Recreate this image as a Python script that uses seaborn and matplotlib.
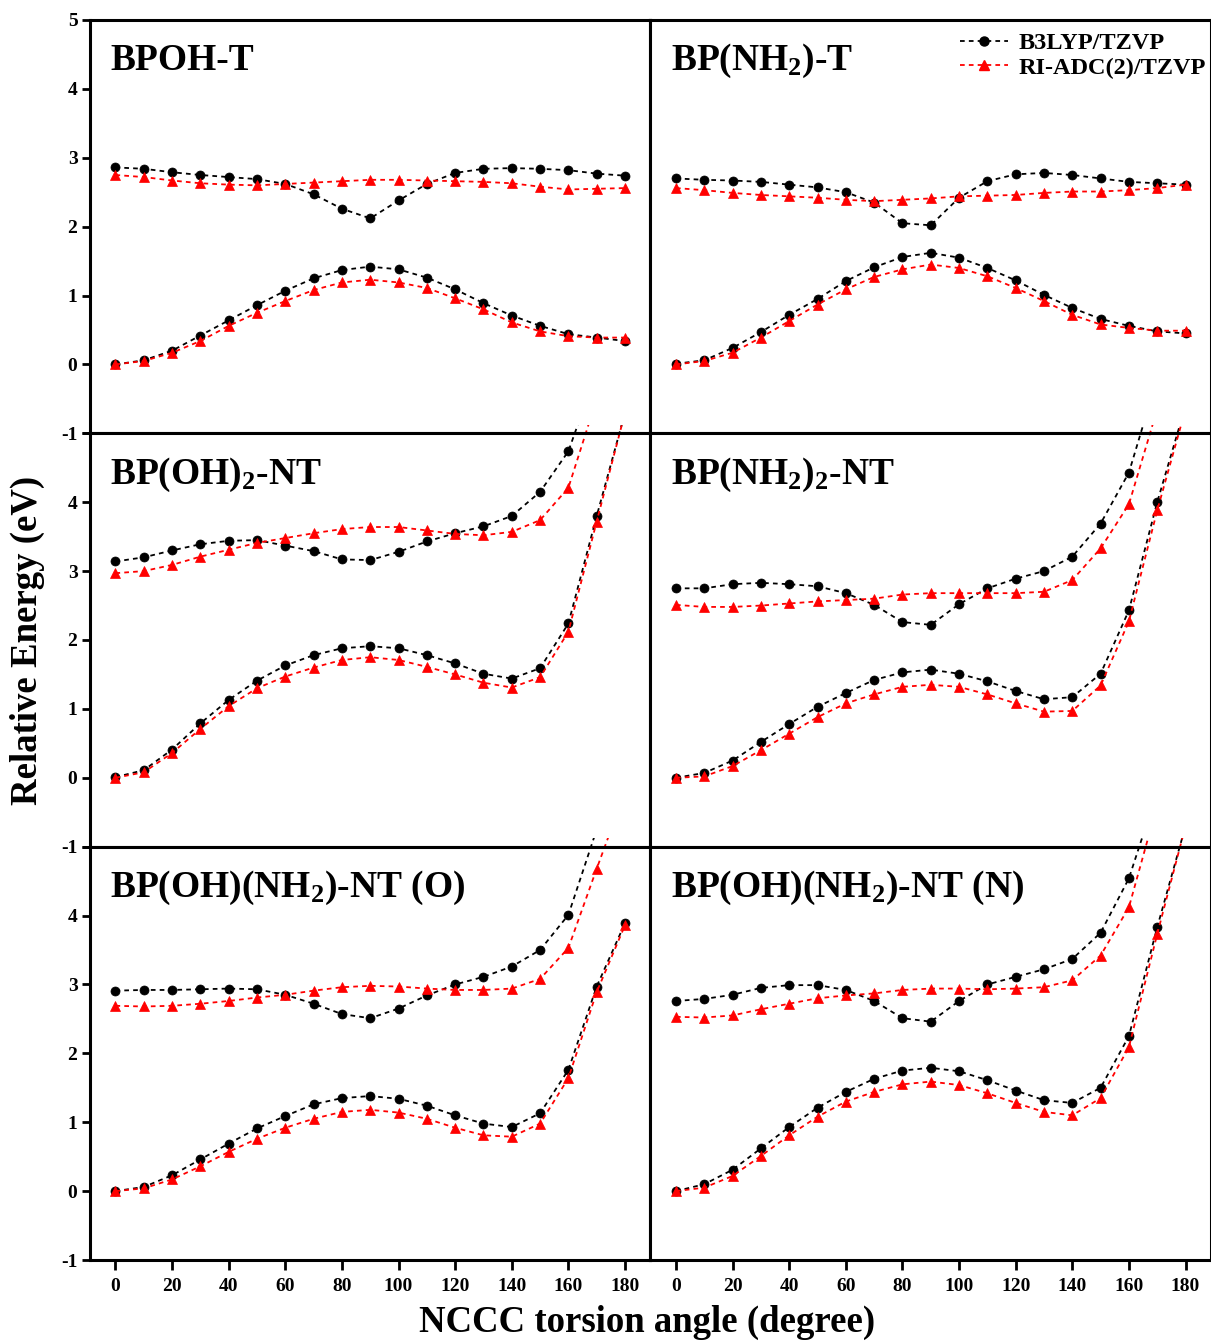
import numpy as np
import pandas as pd
import matplotlib
matplotlib.use("Agg")
import matplotlib.pyplot as plt
from matplotlib.lines import Line2D
from matplotlib.patches import Rectangle
import seaborn as sns

# ---------------- data ----------------
angles = list(range(0, 190, 10))

panel_titles = ["BPOH-T", "BP(NH$_2$)-T", "BP(OH)$_2$-NT", "BP(NH$_2$)$_2$-NT",
                "BP(OH)(NH$_2$)-NT (O)", "BP(OH)(NH$_2$)-NT (N)"]

# BPOH-T
p1_b3_s2 = [2.86, 2.84, 2.79, 2.75, 2.72, 2.69, 2.62, 2.47, 2.26, 2.12, 2.38, 2.62, 2.78, 2.84, 2.85, 2.84, 2.82, 2.77, 2.74]
p1_adc_s2 = [2.75, 2.72, 2.67, 2.63, 2.61, 2.60, 2.62, 2.64, 2.66, 2.68, 2.68, 2.67, 2.66, 2.65, 2.63, 2.58, 2.54, 2.55, 2.56]
p1_b3_s1 = [0.00, 0.06, 0.20, 0.42, 0.64, 0.86, 1.07, 1.25, 1.37, 1.42, 1.38, 1.26, 1.09, 0.89, 0.71, 0.56, 0.44, 0.39, 0.34]
p1_adc_s1 = [0.00, 0.05, 0.17, 0.34, 0.56, 0.75, 0.92, 1.08, 1.19, 1.23, 1.19, 1.11, 0.96, 0.80, 0.61, 0.48, 0.41, 0.39, 0.39]

# BP(NH2)-T
p2_b3_s2 = [2.70, 2.68, 2.67, 2.65, 2.61, 2.57, 2.50, 2.35, 2.05, 2.02, 2.42, 2.66, 2.76, 2.78, 2.75, 2.70, 2.65, 2.63, 2.61]
p2_adc_s2 = [2.56, 2.53, 2.49, 2.46, 2.44, 2.42, 2.39, 2.37, 2.39, 2.41, 2.44, 2.45, 2.46, 2.49, 2.51, 2.51, 2.53, 2.56, 2.61]
p2_b3_s1 = [0.01, 0.06, 0.24, 0.47, 0.72, 0.95, 1.21, 1.41, 1.56, 1.62, 1.55, 1.40, 1.22, 1.01, 0.82, 0.66, 0.56, 0.48, 0.45]
p2_adc_s1 = [0.00, 0.05, 0.17, 0.39, 0.63, 0.87, 1.09, 1.27, 1.38, 1.45, 1.40, 1.28, 1.11, 0.92, 0.72, 0.58, 0.53, 0.49, 0.49]

# BP(OH)2-NT
p3_b3_s2 = [3.14, 3.20, 3.30, 3.39, 3.44, 3.45, 3.37, 3.29, 3.17, 3.16, 3.28, 3.43, 3.55, 3.65, 3.80, 4.15, 4.74, 5.90, 7.00]
p3_adc_s2 = [2.97, 3.00, 3.09, 3.21, 3.31, 3.41, 3.48, 3.55, 3.61, 3.64, 3.64, 3.59, 3.54, 3.52, 3.57, 3.74, 4.21, 5.50, 6.80]
p3_b3_s1 = [0.01, 0.11, 0.41, 0.79, 1.13, 1.41, 1.63, 1.78, 1.88, 1.91, 1.88, 1.78, 1.66, 1.51, 1.44, 1.59, 2.24, 3.80, 5.30]
p3_adc_s1 = [0.00, 0.08, 0.36, 0.71, 1.04, 1.30, 1.47, 1.60, 1.71, 1.75, 1.71, 1.61, 1.50, 1.38, 1.31, 1.46, 2.12, 3.72, 5.30]

# BP(NH2)2-NT
p4_b3_s2 = [2.75, 2.75, 2.81, 2.83, 2.81, 2.78, 2.68, 2.51, 2.26, 2.22, 2.52, 2.75, 2.89, 3.00, 3.21, 3.69, 4.43, 5.80, 7.00]
p4_adc_s2 = [2.51, 2.48, 2.48, 2.50, 2.53, 2.56, 2.58, 2.60, 2.66, 2.68, 2.68, 2.68, 2.68, 2.70, 2.87, 3.33, 3.97, 5.35, 6.60]
p4_b3_s1 = [0.00, 0.07, 0.25, 0.52, 0.78, 1.03, 1.23, 1.42, 1.53, 1.57, 1.51, 1.40, 1.26, 1.14, 1.17, 1.51, 2.43, 4.00, 5.40]
p4_adc_s1 = [0.00, 0.02, 0.17, 0.40, 0.64, 0.88, 1.08, 1.21, 1.32, 1.35, 1.32, 1.21, 1.08, 0.96, 0.97, 1.34, 2.27, 3.88, 5.35]

# BP(OH)(NH2)-NT (O)
p5_b3_s2 = [2.91, 2.92, 2.92, 2.93, 2.94, 2.93, 2.85, 2.72, 2.57, 2.51, 2.65, 2.84, 3.00, 3.11, 3.26, 3.50, 4.01, 5.25, 6.50]
p5_adc_s2 = [2.69, 2.68, 2.69, 2.72, 2.76, 2.81, 2.85, 2.91, 2.96, 2.98, 2.97, 2.94, 2.92, 2.92, 2.94, 3.08, 3.53, 4.68, 5.80]
p5_b3_s1 = [0.00, 0.06, 0.23, 0.46, 0.69, 0.91, 1.09, 1.26, 1.35, 1.38, 1.34, 1.24, 1.10, 0.98, 0.93, 1.13, 1.76, 2.97, 3.89]
p5_adc_s1 = [0.00, 0.04, 0.17, 0.36, 0.57, 0.76, 0.92, 1.05, 1.15, 1.18, 1.14, 1.05, 0.92, 0.81, 0.79, 0.98, 1.64, 2.89, 3.86]

# BP(OH)(NH2)-NT (N)
p6_b3_s2 = [2.76, 2.79, 2.85, 2.95, 2.99, 2.99, 2.92, 2.76, 2.51, 2.46, 2.76, 3.00, 3.11, 3.22, 3.37, 3.75, 4.54, 5.80, 7.00]
p6_adc_s2 = [2.53, 2.52, 2.55, 2.64, 2.72, 2.80, 2.84, 2.87, 2.92, 2.94, 2.94, 2.93, 2.94, 2.96, 3.06, 3.42, 4.12, 5.60, 7.00]
p6_b3_s1 = [0.00, 0.10, 0.31, 0.62, 0.93, 1.21, 1.44, 1.63, 1.75, 1.79, 1.74, 1.61, 1.46, 1.32, 1.28, 1.50, 2.25, 3.83, 5.30]
p6_adc_s1 = [0.00, 0.05, 0.22, 0.51, 0.81, 1.08, 1.30, 1.44, 1.55, 1.59, 1.54, 1.42, 1.28, 1.15, 1.10, 1.35, 2.09, 3.73, 5.30]

panels = [
    (p1_b3_s2, p1_adc_s2, p1_b3_s1, p1_adc_s1),
    (p2_b3_s2, p2_adc_s2, p2_b3_s1, p2_adc_s1),
    (p3_b3_s2, p3_adc_s2, p3_b3_s1, p3_adc_s1),
    (p4_b3_s2, p4_adc_s2, p4_b3_s1, p4_adc_s1),
    (p5_b3_s2, p5_adc_s2, p5_b3_s1, p5_adc_s1),
    (p6_b3_s2, p6_adc_s2, p6_b3_s1, p6_adc_s1),
]

method_labels = ["B3LYP/TZVP", "RI-ADC(2)/TZVP"]
x_ticks = list(range(0, 181, 20))
y_ticks = [-1, 0, 1, 2, 3, 4, 5]

# ---------------- style ----------------
sns.set_theme(style="ticks")
plt.rcParams["font.family"] = ["Liberation Serif", "DejaVu Serif"]
plt.rcParams["font.weight"] = "bold"
plt.rcParams["text.color"] = "black"
plt.rcParams["axes.labelcolor"] = "black"
plt.rcParams["xtick.color"] = "black"
plt.rcParams["ytick.color"] = "black"
plt.rcParams["axes.unicode_minus"] = False
plt.rcParams["mathtext.fontset"] = "custom"
plt.rcParams["mathtext.rm"] = "Liberation Serif:bold"
plt.rcParams["mathtext.it"] = "Liberation Serif:bold"
plt.rcParams["mathtext.bf"] = "Liberation Serif:bold"
plt.rcParams["mathtext.default"] = "rm"

fig, axes = plt.subplots(3, 2, figsize=(12.11, 13.42), dpi=100,
                         gridspec_kw=dict(hspace=0, wspace=0))
fig.subplots_adjust(left=0.0743, right=1.0, top=0.9851, bottom=0.0611)

styles = [("black", "o", 6.5), ("red", "^", 7.5)]

for idx, ax in enumerate(axes.flat):
    b3_s2, adc_s2, b3_s1, adc_s1 = panels[idx]
    series = [(b3_s2, 0), (adc_s2, 1), (b3_s1, 0), (adc_s1, 1)]
    for vals, m in series:
        col, mk, ms = styles[m]
        df = pd.DataFrame({"angle": angles, "energy": vals})
        sns.lineplot(data=df, x="angle", y="energy", ax=ax, color=col,
                     marker=mk, markersize=ms, markeredgecolor=col,
                     markeredgewidth=0.5, linestyle="--", linewidth=1.3,
                     estimator=None, sort=False)
    for ln in ax.lines:
        ln.set_dashes((2.6, 2.3))
        clip = Rectangle((0, 0), 1, 1.02, transform=ax.transAxes,
                         facecolor="none", edgecolor="none")
        ln.set_clip_path(clip)

    ax.set_xlim(-9, 189)
    ax.set_ylim(-1, 5)
    ax.set_xlabel("")
    ax.set_ylabel("")
    ax.set_xticks(x_ticks)
    ax.set_yticks(y_ticks)
    for sp in ax.spines.values():
        sp.set_linewidth(2.2)
        sp.set_color("black")
        sp.set_visible(True)

    row, colidx = divmod(idx, 2)
    if colidx == 0:
        ax.tick_params(axis="y", direction="out", length=6, width=2,
                       labelsize=14, pad=3)
        if row > 0:
            ax.set_yticklabels(["-1", "0", "1", "2", "3", "4", ""])
        else:
            ax.set_yticklabels(["-1", "0", "1", "2", "3", "4", "5"])
    else:
        ax.tick_params(axis="y", left=False, labelleft=False)
    if row == 2:
        ax.tick_params(axis="x", direction="out", length=7, width=2,
                       labelsize=14, pad=6)
    else:
        ax.tick_params(axis="x", bottom=False, labelbottom=False)

    ax.text(-1.8, 4.27, panel_titles[idx], fontsize=27, fontweight="bold",
            va="baseline", ha="left", zorder=5, color="black")

# legend
handles = [Line2D([], [], color="black", linestyle="--", dashes=(2.6, 2.3),
                  linewidth=1.3, marker="o", markersize=6.5),
           Line2D([], [], color="red", linestyle="--", dashes=(2.6, 2.3),
                  linewidth=1.3, marker="^", markersize=7.5)]
axes[0, 1].legend(handles, method_labels, loc="upper right", frameon=False,
                  fontsize=17.5, handlelength=2.0, handletextpad=0.4,
                  labelspacing=0.1, borderaxespad=0.1,
                  bbox_to_anchor=(1.012, 1.0))

fig.text(0.023, 0.523, "Relative Energy (eV)", rotation=90, fontsize=26.5,
         fontweight="bold", ha="center", va="center", color="black")
fig.text(0.534, 0.0075, "NCCC torsion angle (degree)", fontsize=26.5,
         fontweight="bold", ha="center", va="baseline", color="black")

fig.savefig("out.png", dpi=100)
